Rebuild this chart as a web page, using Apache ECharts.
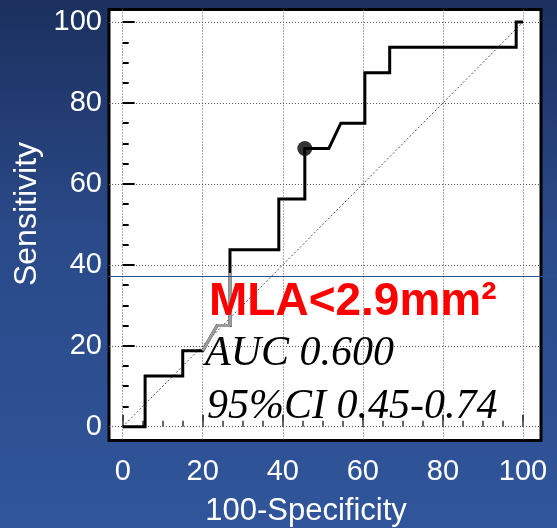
<!DOCTYPE html>
<html><head><meta charset="utf-8">
<script src="https://cdn.jsdelivr.net/npm/echarts@6/dist/echarts.min.js"></script>
<style>html,body{margin:0;padding:0;overflow:hidden;background:#2b4b8b}#c{width:557px;height:528px}</style>
</head><body><div id="c"></div>
<script>
// ---- data ----
const majorTicks = [0, 20, 40, 60, 80, 100];
const minorTicks = [0, 5, 10, 15, 20, 25, 30, 35, 40, 45, 50, 55, 60, 65, 70, 75, 80, 85, 90, 95, 100];
const rocX = [0, 5.6, 5.6, 15, 15, 20, 23.6, 26.8, 26.8, 39, 39, 45.5, 45.5, 51.5, 54.5, 60.5, 60.5, 66.7, 66.7, 98.3, 98.3, 100];
const rocY = [0, 0, 12.5, 12.5, 18.75, 18.75, 25, 25, 43.75, 43.75, 56.25, 56.25, 68.75, 68.75, 75, 75, 87.5, 87.5, 93.75, 93.75, 100, 100];
const fadedX = [20, 23.6, 26.8, 26.8];
const fadedY = [18.75, 25, 25, 38];
const cutX = [45.5];
const cutY = [68.75];
const diagX = [0, 100];
const diagY = [0, 100];
const xName = '100-Specificity';
const yName = 'Sensitivity';
const notes = ['MLA<2.9mm²', 'AUC 0.600', '95%CI 0.45-0.74'];

const zip = (a, b) => a.map((v, i) => [v, b[i]]);
const chart = echarts.init(document.getElementById('c'), null, {renderer: 'canvas', width: 557, height: 528});
const GL = 109, GT = 9.5, GR = 541, GB = 440.5;
const XMIN = -3.42, XMAX = 104.5, YMIN = -3.41, YMAX = 103.1;
const sans = '"Liberation Sans", Arial, sans-serif';
const serif = '"Liberation Serif", "Times New Roman", serif';

function majorAxis(isX) {
  return {
    type: 'value', min: isX ? XMIN : YMIN, max: isX ? XMAX : YMAX,
    position: isX ? 'bottom' : 'left',
    axisLine: {show: false},
    axisTick: {show: true, inside: true, length: 12, customValues: majorTicks,
      lineStyle: {color: isX ? '#444' : '#000', width: 2}},
    axisLabel: {show: true, customValues: majorTicks, color: '#fff', fontSize: 29,
      fontFamily: sans, margin: isX ? 17 : 7},
    splitLine: {show: true, lineStyle: {color: '#5a5a5a', width: 1, type: [1, 2]}},
    name: isX ? xName : yName, nameLocation: 'middle', nameGap: isX ? 55 : 64,
    nameTextStyle: {color: '#fff', fontSize: isX ? 31 : 32, fontFamily: sans,
      padding: isX ? [0, 38, 0, 0] : [0, 0, 0, 22]}
  };
}
function minorAxis(isX) {
  return {
    type: 'value', min: isX ? XMIN : YMIN, max: isX ? XMAX : YMAX,
    position: isX ? 'bottom' : 'left',
    axisLine: {show: false},
    axisTick: {show: true, inside: true, length: 6, customValues: minorTicks,
      lineStyle: {color: isX ? '#666' : '#000', width: 2}},
    axisLabel: {show: false},
    splitLine: {show: false}
  };
}

chart.setOption({
  animation: false,
  backgroundColor: new echarts.graphic.LinearGradient(0, 0, 0, 1, [
    {offset: 0, color: '#1b305e'},
    {offset: 0.45, color: '#2a4a89'},
    {offset: 1, color: '#30559a'}
  ]),
  grid: {left: GL, top: GT, width: GR - GL, height: GB - GT, show: true,
    outerBoundsMode: 'none', containLabel: false,
    backgroundColor: '#fff', borderColor: '#000', borderWidth: 3},
  xAxis: [majorAxis(true), minorAxis(true)],
  yAxis: [majorAxis(false), minorAxis(false)],
  series: [
    {type: 'line', data: zip(diagX, diagY), symbol: 'none', silent: true, z: 2,
      lineStyle: {color: '#555', width: 1, type: [2, 2]}},
    {type: 'line', data: zip(rocX, rocY), symbol: 'none', z: 3,
      lineStyle: {color: '#000', width: 3, join: 'miter'}},
    {type: 'line', data: zip(fadedX, fadedY), symbol: 'none', z: 4,
      lineStyle: {color: '#9b9b9b', width: 3}},
    {type: 'scatter', data: zip(cutX, cutY), symbol: 'circle', symbolSize: 15, z: 5,
      itemStyle: {color: '#000'}}
  ],
  graphic: [
    {type: 'line', z: 100, shape: {x1: 108, y1: 276.5, x2: 557, y2: 276.5},
      style: {stroke: '#2c4e8e', lineWidth: 1}},
    {type: 'text', z: 101, x: 209, y: 302,
      style: {text: notes[0], fill: '#ff0000', font: 'bold 46px ' + sans, verticalAlign: 'middle'}},
    {type: 'text', z: 101, x: 205, y: 354,
      style: {text: notes[1], fill: '#000', font: 'italic 42px ' + serif, verticalAlign: 'middle'}},
    {type: 'text', z: 101, x: 207, y: 407,
      style: {text: notes[2], fill: '#000', font: 'italic 42px ' + serif, verticalAlign: 'middle'}}
  ]
});
</script>
</body></html>
